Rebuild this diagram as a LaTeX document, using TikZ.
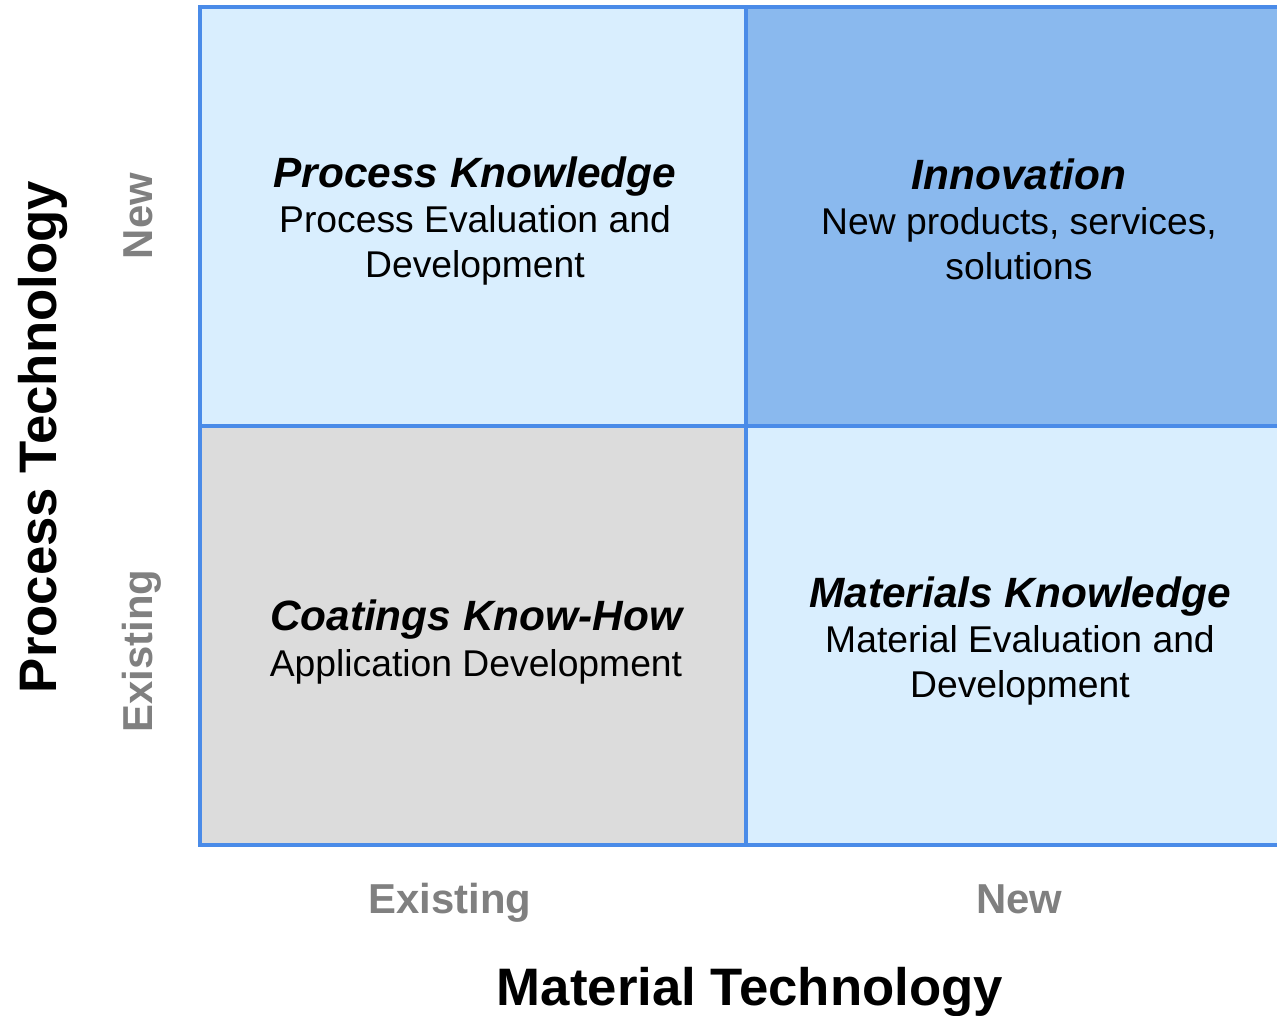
\documentclass[tikz,border=0pt]{standalone}
\usepackage{fontspec}
\setmainfont{Liberation Sans}
\definecolor{cellblue}{RGB}{217,238,254}
\definecolor{darkblue}{RGB}{138,185,238}
\definecolor{cellgray}{RGB}{220,220,220}
\definecolor{gridblue}{RGB}{74,139,232}
\definecolor{labelgray}{RGB}{128,128,128}
\newcommand{\headfont}{\fontsize{12.05}{12.8}\selectfont\bfseries\itshape}

\begin{document}
\begin{tikzpicture}[x=0.01cm,y=-0.01cm,
    cell/.style={align=center,font=\fontsize{10.6}{12.8}\selectfont},
    side/.style={anchor=base,text=labelgray,font=\fontsize{11.9}{14}\selectfont\bfseries},
    axis/.style={anchor=base,font=\fontsize{15}{17}\selectfont\bfseries}]
\useasboundingbox (0,0) rectangle (1277,1015);

\fill[cellblue] (200,7) rectangle (746,426);
\fill[darkblue] (746,7) rectangle (1294,426);
\fill[cellgray] (200,426) rectangle (746,845);
\fill[cellblue] (746,426) rectangle (1294,845);
\draw[gridblue,line width=0.95pt] (200,7) rectangle (1294,845);
\draw[gridblue,line width=0.95pt] (746,7) -- (746,845);
\draw[gridblue,line width=0.95pt] (200,426) -- (1294,426);

\node[cell] (pk) at (475,221) {{\headfont Process Knowledge}\\Process Evaluation and\\Development};
\node[cell] (inn) at (1019,219) {{\headfont Innovation}\\New products, services,\\solutions};
\node[cell] (ckh) at (476,642) {{\headfont Coatings Know-How}\\Application Development};
\node[cell] (mk) at (1020,641) {{\headfont Materials Knowledge}\\Material Evaluation and\\Development};

\node[side,rotate=90] (pnew) at (152,216) {New};
\node[side,rotate=90] (pold) at (152,651) {Existing};
\node[side] (mold) at (450,913) {Existing};
\node[side] (mnew) at (1019,913) {New};

\node[axis,rotate=90] (ptech) at (56,437) {Process Technology};
\node[axis] (mtech) at (750,1005) {Material Technology};

\end{tikzpicture}
\end{document}
